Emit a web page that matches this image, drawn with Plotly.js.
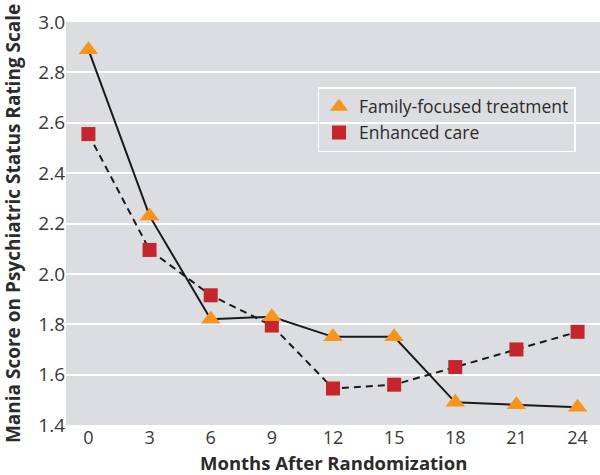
<!DOCTYPE html>
<html><head><meta charset="utf-8">
<script src="https://cdn.plot.ly/plotly-3.0.1.min.js"></script>
<style>body{margin:0;background:#fff}#chart{width:600px;height:475px}</style>
</head><body><div id="chart"></div>
<script>
var months = [0, 3, 6, 9, 12, 15, 18, 21, 24];
var familyFocused = [2.89, 2.23, 1.82, 1.83, 1.75, 1.75, 1.49, 1.48, 1.47];
var enhancedCare = [2.555, 2.095, 1.915, 1.795, 1.545, 1.56, 1.63, 1.70, 1.77];
var seriesNames = ['Family-focused treatment', 'Enhanced care'];
var yTicks = [1.4, 1.6, 1.8, 2.0, 2.2, 2.4, 2.6, 2.8, 3.0];
var xTitle = 'Months After Randomization';
var yTitle = 'Mania Score on Psychiatric Status Rating Scale';

var orange = '#f7941d', red = '#c4262e';
var traces = [
  {x: months, y: enhancedCare, mode: 'lines+markers', showlegend: false,
   line: {color: '#1a1a1a', width: 2, dash: '7px,5px'},
   marker: {symbol: 'square', size: 14, color: red}},
  {x: months, y: familyFocused, mode: 'lines+markers', showlegend: false,
   line: {color: '#1a1a1a', width: 2},
   marker: {symbol: 'triangle-up', size: 17, color: orange}},
  {x: [null], y: [null], mode: 'markers', name: seriesNames[0],
   marker: {symbol: 'triangle-up', size: 16, color: orange}},
  {x: [null], y: [null], mode: 'markers', name: seriesNames[1],
   marker: {symbol: 'square', size: 14, color: red}}
];
var layout = {
  width: 600, height: 475,
  margin: {l: 66, r: 0, t: 22, b: 50},
  paper_bgcolor: '#ffffff', plot_bgcolor: '#dcdde0',
  font: {family: 'Open Sans, sans-serif', color: '#2b2b2b', size: 15},
  xaxis: {range: [-1.1, 25.1], tickvals: months, ticktext: months.map(String),
    showgrid: false, zeroline: false, showline: false, ticks: '',
    tickfont: {size: 18, color: '#383838'}},
  yaxis: {range: [1.4, 3.0], tickvals: yTicks, ticktext: yTicks.map(function(v){return v.toFixed(1);}),
    showgrid: true, gridcolor: '#ffffff', gridwidth: 2, zeroline: false, showline: false, ticks: '',
    tickfont: {size: 19, color: '#383838'}},
  annotations: [
    {text: '<b>' + xTitle + '</b>', xref: 'paper', yref: 'paper', x: 0.5, y: -0.094,
     xanchor: 'center', yanchor: 'middle', showarrow: false, font: {size: 18.5, color: '#2b2b2b'}},
    {text: '<b>' + yTitle + '</b>', xref: 'paper', yref: 'paper', x: -0.1, y: 0.5, textangle: -90,
     xanchor: 'center', yanchor: 'middle', showarrow: false, font: {size: 19, color: '#2b2b2b'}}
  ],
  legend: {x: 0.471, y: 0.838, xanchor: 'left', yanchor: 'top', bgcolor: 'rgba(0,0,0,0)',
    bordercolor: '#ffffff', borderwidth: 1.5, font: {size: 17.5, color: '#2b2b2b'},
    tracegroupgap: 0, itemwidth: 30}
};
Plotly.newPlot('chart', traces, layout, {displayModeBar: false, staticPlot: true});
</script></body></html>
